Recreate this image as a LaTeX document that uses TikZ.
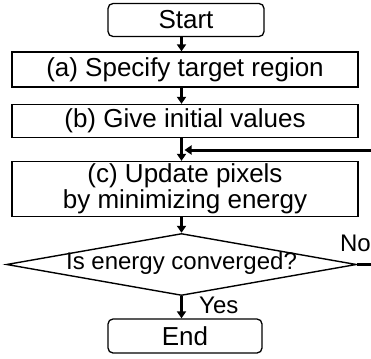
\documentclass[tikz,border=0pt]{standalone}
\usepackage{fontspec}
\setmainfont{Liberation Sans}
\usetikzlibrary{shapes.geometric,arrows.meta}
\begin{document}
\begin{tikzpicture}[x=1pt,y=-1pt,
  every node/.style={font=\fontsize{26}{26.5}\selectfont},
  smalltext/.style={font=\fontsize{24}{26}\selectfont},
  procbox/.style={draw,line width=1.3pt,rectangle,minimum width=346pt,inner sep=0pt,align=center},
  termbox/.style={draw,line width=1.3pt,rectangle,rounded corners=5pt,minimum width=156pt,minimum height=33pt,inner sep=0pt},
  decbox/.style={draw,line width=1.4pt,diamond,aspect=5.65,minimum width=350pt,minimum height=62pt,inner sep=0pt},
  flow/.style={line width=3pt,-{Triangle[width=9pt,length=7pt]}},
  plainflow/.style={line width=3pt}]
\useasboundingbox (0,0) rectangle (371,358);
\node[termbox] (start) at (186,20) {Start};
\node[procbox,minimum height=35pt] (a) at (185,69.5) {(a) Specify target region};
\node[procbox,minimum height=33pt] (b) at (185,121) {(b) Give initial values};
\node[procbox,minimum height=55pt] (c) at (185,189) {(c) Update pixels\\by minimizing energy};
\node[decbox] (d) at (181.5,264.5) {};
\node[inner sep=0pt,smalltext] (dtext) at ([yshift=1pt]d.center) {Is energy converged?};
\node[termbox,minimum width=154pt,minimum height=34pt] (e) at (185,336) {End};
\coordinate (noend) at (372,264.5);
\coordinate (fbstart) at (372,150);
\node[anchor=base east,inner sep=0pt,smalltext] (no) at (371,251) {No};
\node[anchor=base west,inner sep=0pt,smalltext] (yes) at (199,313) {Yes};
\draw[flow] (start.south -| d.north) -- (a.north -| d.north);
\draw[flow] (a.south -| d.north) -- (b.north -| d.north);
\draw[flow] (b.south -| d.north) -- (c.north -| d.north);
\draw[flow] (c.south -| d.north) -- (d.north);
\draw[flow] (d.south) -- (e.north -| d.north);
\draw[plainflow] (d.east) -- (noend);
\draw[flow] (fbstart) -- ([xshift=3pt]fbstart -| d.north);
\end{tikzpicture}
\end{document}
